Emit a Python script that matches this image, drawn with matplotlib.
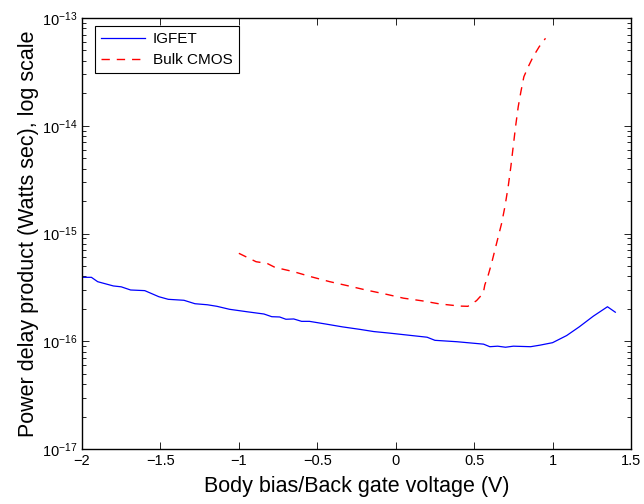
import numpy as np
import matplotlib
matplotlib.use('Agg')
import matplotlib.pyplot as plt
from matplotlib.ticker import LogLocator, NullFormatter

plt.rcParams['font.family'] = ['Liberation Sans', 'DejaVu Sans']
plt.rcParams['mathtext.fontset'] = 'custom'
plt.rcParams['mathtext.rm'] = 'Liberation Sans'
plt.rcParams['mathtext.it'] = 'Liberation Sans:italic'
plt.rcParams['mathtext.bf'] = 'Liberation Sans:bold'

# IGFET curve
igfet_x = [-2.0, -1.94, -1.90, -1.80, -1.75, -1.69, -1.60, -1.51, -1.45, -1.35,
           -1.28, -1.20, -1.14, -1.06, -0.95, -0.84, -0.79, -0.74, -0.70, -0.65,
           -0.60, -0.55, -0.44, -0.34, -0.23, -0.14, -0.04, 0.20, 0.25, 0.39,
           0.56, 0.60, 0.65, 0.70, 0.75, 0.86, 0.92, 1.00, 1.09, 1.17,
           1.26, 1.35, 1.40]
igfet_y = [3.92e-16, 3.92e-16, 3.57e-16, 3.26e-16, 3.20e-16, 2.99e-16, 2.95e-16,
           2.59e-16, 2.45e-16, 2.40e-16, 2.23e-16, 2.18e-16, 2.11e-16, 1.98e-16,
           1.88e-16, 1.79e-16, 1.69e-16, 1.68e-16, 1.60e-16, 1.61e-16, 1.53e-16,
           1.53e-16, 1.44e-16, 1.36e-16, 1.29e-16, 1.23e-16, 1.19e-16, 1.09e-16,
           1.02e-16, 9.9e-17, 9.4e-17, 8.9e-17, 9.0e-17, 8.8e-17, 9.0e-17,
           8.9e-17, 9.2e-17, 9.7e-17, 1.13e-16, 1.36e-16, 1.71e-16, 2.09e-16,
           1.86e-16]

# Bulk CMOS curve
bulk_x = [-1.0, -0.89, -0.82, -0.77, -0.65, -0.54, -0.42, -0.30, -0.19, -0.07,
          0.05, 0.17, 0.28, 0.41, 0.46, 0.515, 0.558, 0.568, 0.59, 0.611,
          0.643, 0.675, 0.696, 0.717, 0.734, 0.749, 0.764, 0.781, 0.798, 0.817,
          0.845, 0.876, 0.915, 0.955]
bulk_y = [6.55e-16, 5.47e-16, 5.28e-16, 4.85e-16, 4.42e-16, 3.97e-16, 3.57e-16,
          3.26e-16, 2.99e-16, 2.75e-16, 2.51e-16, 2.37e-16, 2.22e-16, 2.12e-16,
          2.11e-16, 2.38e-16, 2.79e-16, 3.33e-16, 4.12e-16, 5.28e-16, 8.1e-16,
          1.24e-15, 1.77e-15, 2.72e-15, 4.17e-15, 6.4e-15, 9.8e-15, 1.5e-14,
          2.07e-14, 2.85e-14, 3.53e-14, 4.37e-14, 5.42e-14, 6.48e-14]

xticks = [-2, -1.5, -1, -0.5, 0, 0.5, 1, 1.5]
xticklabels = ['\u22122', '\u22121.5', '\u22121', '\u22120.5', '0', '0.5', '1', '1.5']

fig = plt.figure(figsize=(6.44, 5.04), dpi=100)
ax = fig.add_axes([82/644, 1 - 449/504, 549/644, 431/504])

ax.plot(igfet_x, igfet_y, color='#0000ff', lw=0.9, label='IGFET')
ax.plot(bulk_x, bulk_y, color='#ff0000', lw=1.0, dashes=[6, 5], label='Bulk CMOS')

ax.set_yscale('log')
ax.set_xlim(-2, 1.5)
ax.set_ylim(1e-17, 1e-13)
ax.set_xticks(xticks)
ax.set_xticklabels(xticklabels)
ax.set_yticks([1e-17, 1e-16, 1e-15, 1e-14, 1e-13])
ax.yaxis.set_minor_locator(LogLocator(base=10, subs=np.arange(2, 10)))
ax.yaxis.set_minor_formatter(NullFormatter())

ax.tick_params(which='both', direction='in', top=True, right=True,
               labelsize=10.5, color='black')
ax.tick_params(which='major', length=5, width=0.6)
ax.tick_params(which='minor', length=3, width=0.6)
for s in ax.spines.values():
    s.set_linewidth(1.0)

ax.set_xlabel('Body bias/Back gate voltage (V)', fontsize=15.5, labelpad=6)
ax.set_ylabel('Power delay product (Watts sec), log scale', fontsize=15.5, labelpad=2)

leg = ax.legend(loc='upper left', bbox_to_anchor=(13/549, 1 - 8/431),
                borderaxespad=0, fontsize=11, fancybox=False, framealpha=1,
                edgecolor='black', handlelength=2.9, handletextpad=0.5,
                borderpad=0.4, labelspacing=0.45)
leg.get_frame().set_linewidth(0.8)

fig.savefig('out.png', dpi=100)
